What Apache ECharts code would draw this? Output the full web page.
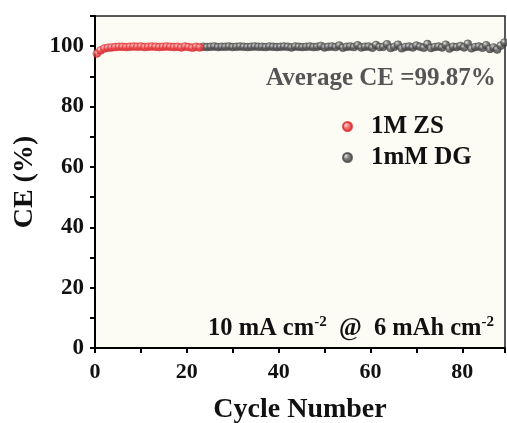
<!DOCTYPE html>
<html><head><meta charset="utf-8">
<script src="https://cdn.jsdelivr.net/npm/echarts@6/dist/echarts.min.js"></script>
<style>html,body{margin:0;padding:0;background:#fff}#c{width:507px;height:423px}</style>
</head><body><div id="c"></div>
<script>
const seriesNames = ['1M ZS', '1mM DG'];
const zsStart = 0.4, dgStart = 23.6, cycleStep = 0.8;
const zsCE = [97.6, 98.6, 99.2, 99.5, 99.6, 99.7, 99.8, 99.8, 99.7, 99.8, 99.9, 99.8, 99.9, 99.7, 99.8, 99.9, 99.8, 99.7, 99.8, 99.9, 99.8, 99.7, 99.8, 99.6, 99.9, 99.7, 99.5, 99.8, 99.6];
const dgCE = [99.8, 99.7, 99.8, 99.9, 99.7, 99.8, 99.8, 99.9, 99.7, 99.8, 99.9, 99.8, 99.7, 99.8, 99.9, 99.8, 99.8, 99.7, 99.9, 99.8, 99.7, 99.8, 99.9, 99.8, 99.6, 99.9, 99.8, 99.7, 99.8, 99.9,
  99.7, 99.8, 100.1, 99.6, 99.8, 99.9, 99.7, 100.2, 99.5, 99.8, 99.9, 99.7, 100.3, 99.6, 99.8, 99.9, 99.5, 100.4, 99.7, 99.8,
  100.6, 99.4, 99.8, 100.5, 99.3, 99.7, 99.9, 99.6, 100.2, 99.8, 99.5, 100.7, 99.4, 99.7, 99.9, 99.6, 100.5, 99.2, 99.8, 99.7, 100.1, 99.6, 100.8, 99.3, 99.7, 99.9, 99.5, 100.3, 99.1, 99.6, 98.9, 100.2, 101.2];
const xTicks = [0, 20, 40, 60, 80];
const yTicks = [0, 20, 40, 60, 80, 100];
const avgText = 'Average CE =99.87%';

const toPairs = (start, vals) => vals.map((v, i) => [+(start + i * cycleStep).toFixed(2), v]);
const serif = '"Liberation Serif","Times New Roman",serif';
const sphere = (hi, mid, dark) => ({type:'radial', x:0.35, y:0.35, r:0.75, colorStops:[{offset:0,color:hi},{offset:0.4,color:mid},{offset:1,color:dark}]});
const redC = sphere('#ffd6d6', '#ef4a4f', '#c41a20');
const grayC = sphere('#e0e0e0', '#5c5c5c', '#303030');

const chart = echarts.init(document.getElementById('c'));
chart.setOption({
  animation: false,
  backgroundColor: '#fff',
  grid: {left: 95, right: 2, top: 16, bottom: 75, containLabel: false, outerBoundsMode: 'none',
    show: true, backgroundColor: '#fcfbf4', borderColor: '#222', borderWidth: 1.5},
  legend: {
    orient: 'vertical', left: 337, top: 109, itemWidth: 9, itemHeight: 9, itemGap: 6,
    icon: 'circle', data: seriesNames,
    textStyle: {fontFamily: serif, fontWeight: 'bold', fontSize: 25, color: '#111', padding: [0, 0, 0, 14]}
  },
  xAxis: {
    type: 'value', min: 0, max: 89.3, interval: 10,
    name: 'Cycle Number', nameLocation: 'middle', nameGap: 48,
    nameTextStyle: {fontFamily: serif, fontWeight: 'bold', fontSize: 28, color: '#111'},
    axisLine: {lineStyle: {color: '#000', width: 2}},
    axisTick: {show: true, length: 5, lineStyle: {width: 2, color: '#000'}},
    axisLabel: {fontFamily: serif, fontWeight: 'bold', fontSize: 22, color: '#111', margin: 13,
      formatter: v => xTicks.includes(v) ? String(v) : ''},
    splitLine: {show: false}
  },
  yAxis: {
    type: 'value', min: 0, max: 110, interval: 10,
    name: 'CE (%)', nameLocation: 'middle', nameGap: 53, nameRotate: 90,
    nameTextStyle: {fontFamily: serif, fontWeight: 'bold', fontSize: 28, color: '#111'},
    axisLine: {lineStyle: {color: '#000', width: 2}},
    axisTick: {show: true, length: 5, lineStyle: {width: 2, color: '#000'}},
    axisLabel: {fontFamily: serif, fontWeight: 'bold', fontSize: 23, color: '#111', margin: 11,
      formatter: v => yTicks.includes(v) ? String(v) : ''},
    splitLine: {show: false}
  },
  series: [
    {name: seriesNames[1], type: 'scatter', data: toPairs(dgStart, dgCE), symbolSize: 8, z: 2,
      itemStyle: {color: grayC, borderColor: '#444', borderWidth: 0.5}},
    {name: seriesNames[0], type: 'scatter', data: toPairs(zsStart, zsCE), symbolSize: 8, z: 3,
      itemStyle: {color: redC, borderColor: '#d22', borderWidth: 0.5}}
  ],
  graphic: [
    {type: 'text', left: 266, top: 66, style: {text: avgText, font: 'bold 25px ' + serif, fill: '#555'}},
    {type: 'text', left: 208, top: 315, style: {
      rich: {
        n: {font: 'bold 24.5px ' + serif, fill: '#111'},
        s: {font: 'bold 15px ' + serif, fill: '#111', verticalAlign: 'top', padding: [0, 0, 12, 0]}
      },
      text: '{n|10 mA cm}{s|-2}{n|  @  6 mAh cm}{s|-2}'
    }}
  ]
});
</script></body></html>
